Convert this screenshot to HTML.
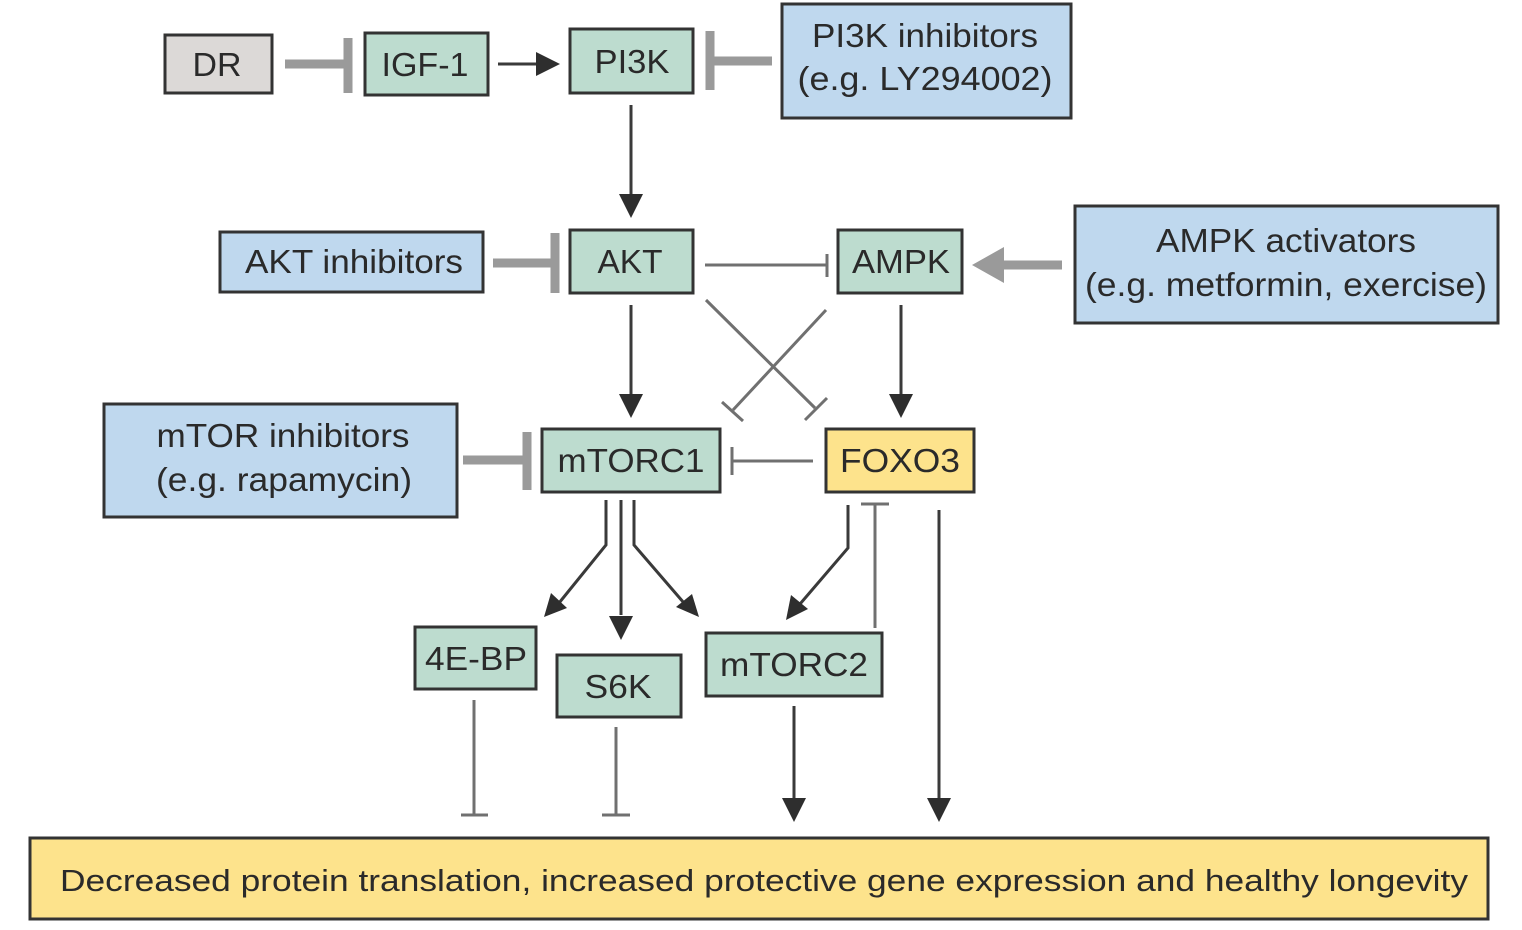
<!DOCTYPE html>
<html><head><meta charset="utf-8"><style>
html,body{margin:0;padding:0;background:#fff;}
svg{display:block;}
text{font-family:"Liberation Sans",sans-serif;fill:#2a2a2a;text-anchor:middle;}
</style></head><body>
<svg width="1522" height="930" viewBox="0 0 1522 930" xmlns="http://www.w3.org/2000/svg">
<rect width="1522" height="930" fill="#fff"/>
<g stroke="#333" stroke-width="3">
<rect x="165" y="35" width="107" height="58" fill="#dcd9d7"/>
<rect x="365" y="33" width="123" height="62" fill="#bddccf"/>
<rect x="570" y="29" width="123" height="64" fill="#bddccf"/>
<rect x="782" y="4" width="289" height="114" fill="#bfd8ee"/>
<rect x="220" y="232" width="263" height="60" fill="#bfd8ee"/>
<rect x="570" y="230" width="123" height="63" fill="#bddccf"/>
<rect x="838" y="230" width="124" height="63" fill="#bddccf"/>
<rect x="1075" y="206" width="423" height="117" fill="#bfd8ee"/>
<rect x="104" y="404" width="353" height="113" fill="#bfd8ee"/>
<rect x="542" y="429" width="178" height="63" fill="#bddccf"/>
<rect x="826" y="429" width="148" height="63" fill="#fde38c"/>
<rect x="415" y="627" width="121" height="62" fill="#bddccf"/>
<rect x="557" y="655" width="124" height="62" fill="#bddccf"/>
<rect x="706" y="633" width="176" height="63" fill="#bddccf"/>
<rect x="30" y="838" width="1458" height="81" fill="#fde38c"/>
</g>
<g font-size="33" lengthAdjust="spacingAndGlyphs">
<text x="217" y="76" textLength="49" lengthAdjust="spacingAndGlyphs">DR</text>
<text x="425" y="76" textLength="87" lengthAdjust="spacingAndGlyphs">IGF-1</text>
<text x="632" y="73" textLength="75" lengthAdjust="spacingAndGlyphs">PI3K</text>
<text x="925" y="47" textLength="226" lengthAdjust="spacingAndGlyphs">PI3K inhibitors</text>
<text x="925" y="90" textLength="255" lengthAdjust="spacingAndGlyphs">(e.g. LY294002)</text>
<text x="354" y="273" textLength="218" lengthAdjust="spacingAndGlyphs">AKT inhibitors</text>
<text x="630" y="273" textLength="65" lengthAdjust="spacingAndGlyphs">AKT</text>
<text x="901" y="273" textLength="98" lengthAdjust="spacingAndGlyphs">AMPK</text>
<text x="1286" y="252" textLength="260" lengthAdjust="spacingAndGlyphs">AMPK activators</text>
<text x="1286" y="296" textLength="402" lengthAdjust="spacingAndGlyphs">(e.g. metformin, exercise)</text>
<text x="283" y="447" textLength="253" lengthAdjust="spacingAndGlyphs">mTOR inhibitors</text>
<text x="284" y="491" textLength="256" lengthAdjust="spacingAndGlyphs">(e.g. rapamycin)</text>
<text x="631" y="472" textLength="147" lengthAdjust="spacingAndGlyphs">mTORC1</text>
<text x="900" y="472" textLength="120" lengthAdjust="spacingAndGlyphs">FOXO3</text>
<text x="476" y="670" textLength="102" lengthAdjust="spacingAndGlyphs">4E-BP</text>
<text x="618" y="698" textLength="67" lengthAdjust="spacingAndGlyphs">S6K</text>
<text x="794" y="676" textLength="148" lengthAdjust="spacingAndGlyphs">mTORC2</text>
<text x="764" y="891" font-size="31" textLength="1408" lengthAdjust="spacingAndGlyphs">Decreased protein translation, increased protective gene expression and healthy longevity</text>
</g>
<g stroke="#9a9a9a" fill="none">
<line x1="285" y1="64" x2="346" y2="64" stroke-width="9"/>
<line x1="348" y1="38" x2="348" y2="93" stroke-width="9"/>
<line x1="712" y1="61" x2="772" y2="61" stroke-width="9"/>
<line x1="710" y1="31" x2="710" y2="90" stroke-width="9"/>
<line x1="493" y1="263" x2="555" y2="263" stroke-width="9"/>
<line x1="555" y1="233" x2="555" y2="293" stroke-width="9"/>
<line x1="463" y1="460" x2="526" y2="460" stroke-width="9"/>
<line x1="527" y1="432" x2="527" y2="490" stroke-width="9"/>
<line x1="1062" y1="265" x2="1000" y2="265" stroke-width="9"/>
</g>
<path d="M972,265 L1004,247 L1004,283 z" fill="#9a9a9a"/>
<g stroke="#3a3a3a" stroke-width="3" fill="none">
<line x1="498" y1="64" x2="540" y2="64"/>
<line x1="631" y1="105" x2="631" y2="200"/>
<line x1="631" y1="305" x2="631" y2="400"/>
<line x1="901" y1="305" x2="901" y2="400"/>
<line x1="939" y1="510" x2="939" y2="800"/>
<line x1="794" y1="706" x2="794" y2="800"/>
<line x1="621" y1="500" x2="621" y2="615"/>
<polyline points="606,500 606,545 559,603"/>
<polyline points="634,500 634,545 684,603"/>
<polyline points="848,505 848,548 800,604"/>
</g>
<g fill="#2e2e2e">
<path d="M560,64 L536,52 L536,76 z"/>
<path d="M631,218 L619,194 L643,194 z"/>
<path d="M631,418 L619,394 L643,394 z"/>
<path d="M901,418 L889,394 L913,394 z"/>
<path d="M621,640 L609,616 L633,616 z"/>
<path d="M939,822 L927,798 L951,798 z"/>
<path d="M794,822 L782,798 L806,798 z"/>
<path d="M544,617 L551,593 L567,608 z"/>
<path d="M699,617 L676,607 L692,594 z"/>
<path d="M786,620 L791,595 L808,609 z"/>
</g>
<g stroke="#707070" stroke-width="3" fill="none">
<line x1="705" y1="265" x2="827" y2="265"/>
<line x1="827" y1="254" x2="827" y2="277"/>
<line x1="813" y1="461" x2="732" y2="461"/>
<line x1="732" y1="447" x2="732" y2="475"/>
<line x1="706" y1="300" x2="815" y2="408"/>
<line x1="805" y1="420" x2="827" y2="398"/>
<line x1="826" y1="310" x2="733" y2="410"/>
<line x1="722" y1="402" x2="743" y2="421"/>
<line x1="875" y1="628" x2="875" y2="504"/>
<line x1="861" y1="504" x2="889" y2="504"/>
<line x1="474" y1="700" x2="474" y2="815"/>
<line x1="461" y1="815" x2="488" y2="815"/>
<line x1="616" y1="727" x2="616" y2="815"/>
<line x1="602" y1="815" x2="630" y2="815"/>
</g>
</svg>
</body></html>
